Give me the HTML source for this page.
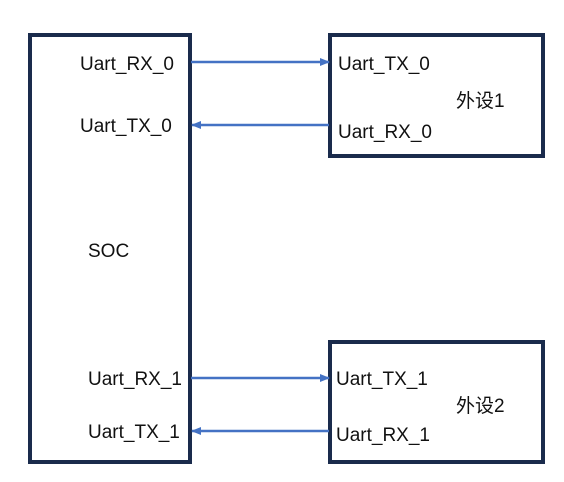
<!DOCTYPE html>
<html><head><style>
body{margin:0;width:564px;height:477px;background:#fff;overflow:hidden}
svg text{font-family:"Liberation Sans","Noto Sans CJK SC",sans-serif;font-size:19px;fill:#111}
</style></head><body>
<svg width="564" height="477" xmlns="http://www.w3.org/2000/svg">
<defs><marker id="a" markerWidth="10" markerHeight="10" refX="9" refY="5" orient="auto" markerUnits="userSpaceOnUse"><path d="M0,1 L10,5 L0,9 z" fill="#4472c4"/></marker></defs>
<g fill="none" stroke="#1a2b4c" stroke-width="4">
<rect x="30" y="35" width="160" height="427"/>
<rect x="330" y="35" width="213" height="121"/>
<rect x="330" y="342" width="213" height="120"/>
</g>
<g stroke="#4472c4" stroke-width="2.5" marker-end="url(#a)">
<line x1="191" y1="62" x2="329" y2="62"/>
<line x1="329" y1="125" x2="192" y2="125"/>
<line x1="191" y1="378" x2="329" y2="378"/>
<line x1="329" y1="431" x2="192" y2="431"/>
</g>
<text x="80" y="70">Uart_RX_0</text>
<text x="80" y="132">Uart_TX_0</text>
<text x="88" y="257">SOC</text>
<text x="88" y="385">Uart_RX_1</text>
<text x="88" y="438">Uart_TX_1</text>
<text x="338" y="70">Uart_TX_0</text>
<text x="338" y="138">Uart_RX_0</text>
<text x="456" y="107">外设1</text>
<text x="336" y="385">Uart_TX_1</text>
<text x="336" y="441">Uart_RX_1</text>
<text x="456" y="412">外设2</text>
</svg>
</body></html>
